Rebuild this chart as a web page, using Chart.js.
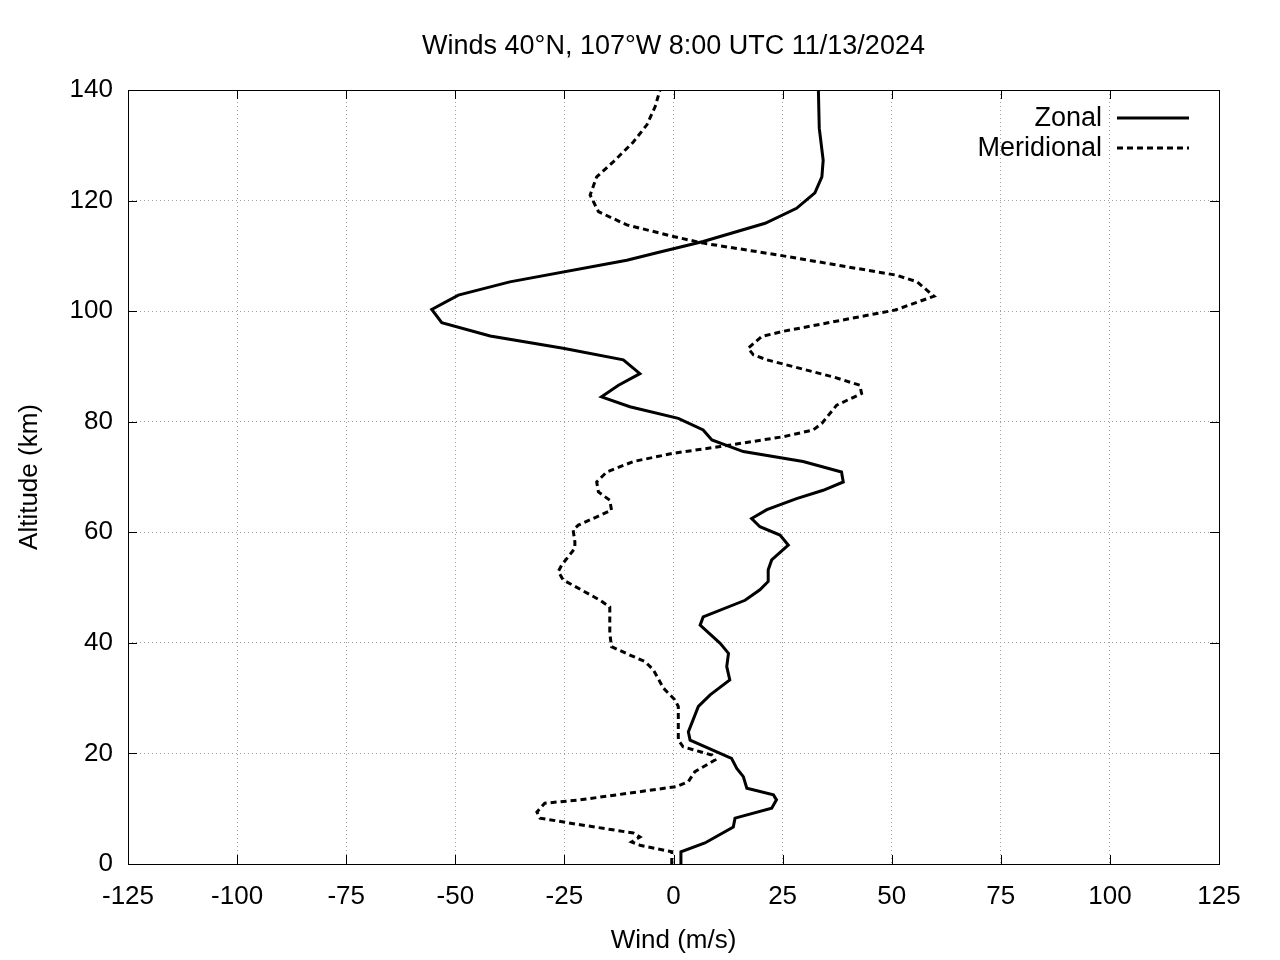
<!DOCTYPE html>
<html>
<head>
<meta charset="utf-8">
<script src="https://cdn.jsdelivr.net/npm/chart.js@4.4.1/dist/chart.umd.min.js"></script>
<style>
  html, body { margin: 0; padding: 0; background: #fff; }
  #wrap { width: 1280px; height: 960px; }
</style>
</head>
<body>
<div id="wrap"><canvas id="windChart" width="1280" height="960"></canvas></div>
<script>
// altitude (km) and wind components (m/s)
const zonalAlt = [0, 2.2, 3.8, 6.7, 8.3, 10.1, 11.6, 12.5, 13.7, 15.8, 17.3, 19.1, 22.4, 23.9, 28.5, 30.6, 33.3, 35.7, 38.1, 39.9, 43.2, 44.7, 47.7, 49.6, 51.1, 53.2, 55.0, 57.7, 59.5, 61.0, 62.5, 64.1, 66.1, 67.6, 69.1, 70.9, 72.8, 74.6, 76.7, 78.5, 80.6, 82.7, 84.5, 86.6, 88.7, 91.2, 93.3, 95.5, 97.9, 100.3, 102.9, 105.3, 109.2, 110.7, 112.6, 115.9, 118.6, 121.4, 124.3, 127.3, 133.1, 140];
const zonalWind = [1.6, 1.7, 7.2, 13.7, 14.1, 22.5, 23.6, 22.9, 16.8, 16.0, 14.5, 13.3, 3.8, 3.4, 5.7, 8.4, 12.9, 12.2, 12.6, 10.7, 6.1, 6.8, 16.4, 19.8, 21.7, 21.7, 22.5, 26.3, 24.4, 19.8, 17.9, 21.4, 28.2, 34.3, 38.9, 38.5, 29.7, 16.0, 8.8, 6.8, 1.1, -10.0, -16.5, -12.6, -7.7, -11.5, -25.3, -42.0, -53.1, -55.4, -49.3, -37.5, -10.7, -3.1, 6.8, 21.0, 28.2, 32.4, 34.0, 34.3, 33.4, 33.2];

const meridAlt = [0, 2.2, 3.4, 4.0, 4.9, 5.6, 7.1, 8.3, 9.4, 11.0, 11.6, 14.0, 14.9, 16.7, 18.8, 19.7, 21.2, 22.4, 28.5, 29.7, 31.8, 35.1, 36.6, 37.8, 39.3, 41.7, 46.5, 47.7, 51.4, 52.9, 54.1, 57.1, 58.3, 60.4, 61.3, 64.0, 65.8, 67.3, 69.1, 70.9, 72.8, 74.3, 75.5, 77.3, 78.5, 79.7, 83.0, 85.1, 86.6, 88.1, 91.2, 92.1, 93.3, 95.4, 96.3, 100.2, 102.7, 105.3, 106.5, 110.1, 112.3, 113.5, 115.6, 118.0, 121.0, 124.3, 127.0, 130.6, 133.7, 137.0, 140];
const meridWind = [-0.4, -0.4, -7.7, -9.6, -7.7, -9.2, -21.4, -30.6, -31.3, -29.5, -21.4, 0.7, 3.4, 4.9, 9.5, 8.8, 2.2, 1.1, 1.1, 0.3, -2.3, -4.6, -6.5, -10.0, -14.2, -14.6, -14.6, -16.8, -25.3, -26.4, -25.6, -22.6, -22.6, -23.0, -21.8, -14.2, -14.6, -17.2, -17.6, -15.3, -9.2, 0, 10.7, 25.2, 32.0, 34.0, 37.4, 43.1, 42.7, 36.6, 21.4, 18.3, 17.1, 20.2, 24.8, 50.8, 59.7, 55.8, 51.1, 24.4, 6.8, 0, -10.7, -17.2, -19.1, -17.6, -13.8, -9.2, -6.1, -4.2, -3.1];

const xTicks = [-125, -100, -75, -50, -25, 0, 25, 50, 75, 100, 125];
const yTicks = [0, 20, 40, 60, 80, 100, 120, 140];

const titleText = 'Winds 40°N, 107°W 8:00 UTC 11/13/2024';
const FONT = 'Liberation Sans, Arial, sans-serif';

function pairs(xs, ys) {
    return xs.map((x, i) => ({ x: x, y: ys[i] }));
}

// frame, inward ticks, title and gnuplot-like legend
const gnuplotBits = {
    id: 'gnuplotBits',
    afterDatasetsDraw(chart) {
        const ctx = chart.ctx;
        const a = chart.chartArea;
        const xs = chart.scales.x, ys = chart.scales.y;
        ctx.save();
        ctx.strokeStyle = '#000';
        ctx.lineWidth = 1;
        ctx.beginPath();
        xTicks.forEach(v => {
            const px = Math.round(xs.getPixelForValue(v)) + 0.5;
            ctx.moveTo(px, a.bottom); ctx.lineTo(px, a.bottom - 9);
            ctx.moveTo(px, a.top); ctx.lineTo(px, a.top + 9);
        });
        yTicks.forEach(v => {
            const py = Math.round(ys.getPixelForValue(v)) + 0.5;
            ctx.moveTo(a.left, py); ctx.lineTo(a.left + 9, py);
            ctx.moveTo(a.right, py); ctx.lineTo(a.right - 9, py);
        });
        ctx.stroke();
        ctx.strokeRect(Math.round(a.left) + 0.5, Math.round(a.top) + 0.5,
            Math.round(a.right - a.left), Math.round(a.bottom - a.top));

        // title
        ctx.fillStyle = '#000';
        ctx.font = '27px ' + FONT;
        ctx.textAlign = 'center';
        ctx.textBaseline = 'middle';
        ctx.fillText(titleText, (a.left + a.right) / 2, 47);

        // legend
        ctx.textAlign = 'right';
        chart.data.datasets.forEach((ds, i) => {
            const y = a.top + 28 + i * 30;
            ctx.fillStyle = '#000';
            ctx.fillText(ds.label, a.right - 117, y + 1);
            ctx.strokeStyle = ds.borderColor;
            ctx.lineWidth = ds.borderWidth;
            ctx.setLineDash(ds.borderDash || []);
            ctx.beginPath();
            ctx.moveTo(a.right - 102, y);
            ctx.lineTo(a.right - 30, y);
            ctx.stroke();
            ctx.setLineDash([]);
        });
        ctx.restore();
    }
};

const ctx = document.getElementById('windChart').getContext('2d');
const windChart = new Chart(ctx, {
    type: 'line',
    data: {
        datasets: [{
            label: 'Zonal',
            data: pairs(zonalWind, zonalAlt),
            borderColor: '#000',
            borderWidth: 3,
            pointRadius: 0,
            fill: false,
            tension: 0
        }, {
            label: 'Meridional',
            data: pairs(meridWind, meridAlt),
            borderColor: '#000',
            borderWidth: 3,
            borderDash: [6, 4],
            pointRadius: 0,
            fill: false,
            tension: 0
        }]
    },
    options: {
        responsive: false,
        animation: false,
        events: [],
        layout: { padding: { top: 90, right: 61, left: 0, bottom: 0 } },
        plugins: {
            legend: { display: false },
            title: { display: false },
            tooltip: { enabled: false }
        },
        scales: {
            x: {
                type: 'linear',
                min: -125, max: 125,
                afterFit(s) { s.height = 96; },
                afterBuildTicks(s) { s.ticks = xTicks.map(v => ({ value: v })); },
                ticks: { color: '#000', font: { size: 26, family: FONT }, padding: 17, maxRotation: 0 },
                grid: { color: '#a0a0a0', lineWidth: 1, drawTicks: false },
                border: { display: false, dash: [1, 3] },
                title: { display: true, text: 'Wind (m/s)', color: '#000', font: { size: 26, family: FONT }, padding: { top: 0, bottom: 4 } }
            },
            y: {
                type: 'linear',
                min: 0, max: 140,
                afterFit(s) { s.width = 128; },
                afterBuildTicks(s) { s.ticks = yTicks.map(v => ({ value: v })); },
                ticks: { color: '#000', font: { size: 26, family: FONT }, padding: 15 },
                grid: { color: '#a0a0a0', lineWidth: 1, drawTicks: false },
                border: { display: false, dash: [1, 3] },
                title: { display: true, text: 'Altitude (km)', color: '#000', font: { size: 26, family: FONT }, padding: { top: 14, bottom: 0 } }
            }
        }
    },
    plugins: [gnuplotBits]
});
</script>
</body>
</html>
